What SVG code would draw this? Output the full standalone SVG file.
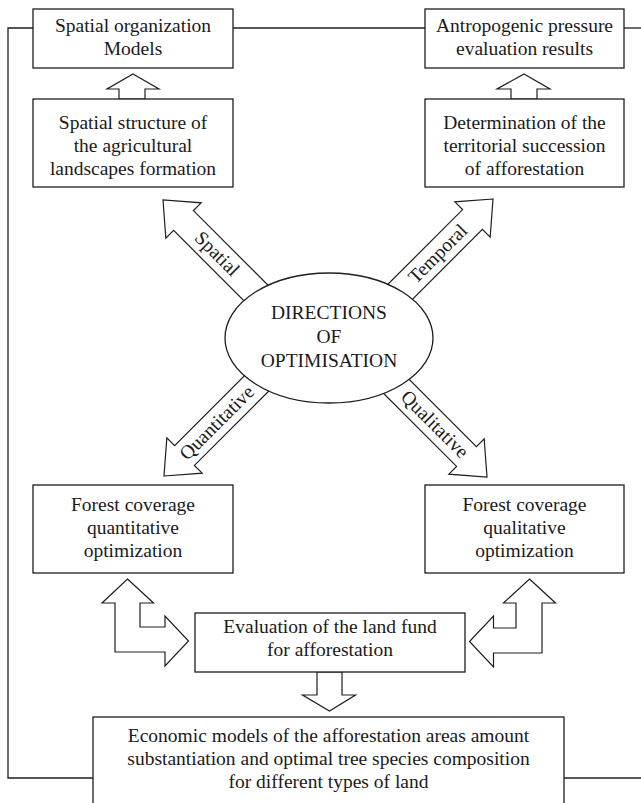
<svg xmlns="http://www.w3.org/2000/svg" width="641" height="803" viewBox="0 0 641 803">
  <style>
    .box { fill: #ffffff; stroke: #1e1e1e; stroke-width: 1.3; }
    .line { fill: none; stroke: #1e1e1e; stroke-width: 1.3; }
    .arrow { fill: #ffffff; stroke: #1e1e1e; stroke-width: 1.2; stroke-linejoin: miter; }
    text { font-size: 19.5px; fill: #1a1a1a; text-anchor: middle; }
  </style>
  <defs>
    <!-- block arrow with its tip at the origin, pointing along +x -->
    <polygon id="diagArrow" points="0,0 -29,-25 -29,-14 -140,-14 -140,14 -29,14 -29,25"/>
  </defs>
  <rect width="641" height="803" fill="#ffffff"/>

  <!-- connectors -->
  <g id="connectors">
    <polyline class="line" points="33,28 8,28 8,778 93,778"/>
    <line class="line" x1="233" y1="28" x2="425" y2="28"/>
    <line class="line" x1="624" y1="28" x2="641" y2="28"/>
    <line class="line" x1="564" y1="778" x2="641" y2="778"/>

    <!-- short upward arrows into the top boxes -->
    <polygon class="arrow" points="133,74 159,89 145,89 145,99 119,99 119,89 107,89"/>
    <polygon class="arrow" points="524,74 550,89 537,89 537,99 511,99 511,89 497,89"/>

    <!-- four direction arrows leaving the central ellipse -->
    <use href="#diagArrow" class="arrow" transform="translate(163,200) rotate(225)"/>
    <use href="#diagArrow" class="arrow" transform="translate(493,199) rotate(-45)"/>
    <use href="#diagArrow" class="arrow" transform="translate(164,476) rotate(135)"/>
    <use href="#diagArrow" class="arrow" transform="translate(487,477) rotate(45)"/>

    <!-- L-shaped two-headed arrows around the land fund box -->
    <polygon class="arrow" points="127.5,579 153.5,603 140,603 140,627 165,627 165,616 188.5,641 165,666 165,652 115,652 115,603 102,603"/>
    <polygon class="arrow" points="529.5,579 555.5,603 542,603 542,653 493.5,653 493.5,667 469.5,641.5 493.5,616 493.5,628 516,628 516,603 503.5,603"/>

    <!-- downward arrow into the economic models box -->
    <polygon class="arrow" points="317,672 342,672 342,695 355.5,695 329.5,711 302.5,695 317,695"/>
  </g>

  <g font-family="'Liberation Serif', 'Times New Roman', Times, serif">
  <g id="node-spatial-models">
    <rect class="box" x="33" y="9" width="200" height="59"/>
    <text x="133" y="32">Spatial organization</text>
    <text x="133" y="55">Models</text>
  </g>

  <g id="node-pressure-results">
    <rect class="box" x="425" y="9" width="199" height="59"/>
    <text x="524.5" y="32">Antropogenic pressure</text>
    <text x="524.5" y="55">evaluation results</text>
  </g>

  <g id="node-spatial-structure">
    <rect class="box" x="33" y="99" width="200" height="88"/>
    <text x="133" y="129">Spatial structure of</text>
    <text x="133" y="152">the agricultural</text>
    <text x="133" y="175">landscapes formation</text>
  </g>

  <g id="node-succession">
    <rect class="box" x="425" y="99" width="199" height="88"/>
    <text x="524.5" y="129">Determination of the</text>
    <text x="524.5" y="152">territorial succession</text>
    <text x="524.5" y="175">of afforestation</text>
  </g>

  <g id="arrow-labels">
    <text transform="translate(217,254) rotate(45)" x="0" y="6">Spatial</text>
    <text transform="translate(438,254) rotate(-45)" x="0" y="6">Temporal</text>
    <text transform="translate(217,423) rotate(-45)" x="0" y="6">Quantitative</text>
    <text transform="translate(434.5,424.5) rotate(45)" x="0" y="6">Qualitative</text>
  </g>

  <g id="node-directions">
    <ellipse class="box" cx="329" cy="338" rx="104" ry="65"/>
    <text x="329" y="319">DIRECTIONS</text>
    <text x="329" y="343">OF</text>
    <text x="329" y="367">OPTIMISATION</text>
  </g>

  <g id="node-quantitative">
    <rect class="box" x="33" y="485" width="200" height="88"/>
    <text x="133" y="511">Forest coverage</text>
    <text x="133" y="534">quantitative</text>
    <text x="133" y="557">optimization</text>
  </g>

  <g id="node-qualitative">
    <rect class="box" x="425" y="485" width="199" height="88"/>
    <text x="524.5" y="511">Forest coverage</text>
    <text x="524.5" y="534">qualitative</text>
    <text x="524.5" y="557">optimization</text>
  </g>

  <g id="node-land-fund">
    <rect class="box" x="195" y="613" width="270" height="59"/>
    <text x="330" y="633">Evaluation of the land fund</text>
    <text x="330" y="656">for afforestation</text>
  </g>

  <g id="node-economic-models">
    <rect class="box" x="93" y="717" width="471" height="100"/>
    <text x="328.5" y="742">Economic models of the afforestation areas amount</text>
    <text x="328.5" y="765">substantiation and optimal tree species composition</text>
    <text x="328.5" y="788">for different types of land</text>
  </g>
  </g>
</svg>
